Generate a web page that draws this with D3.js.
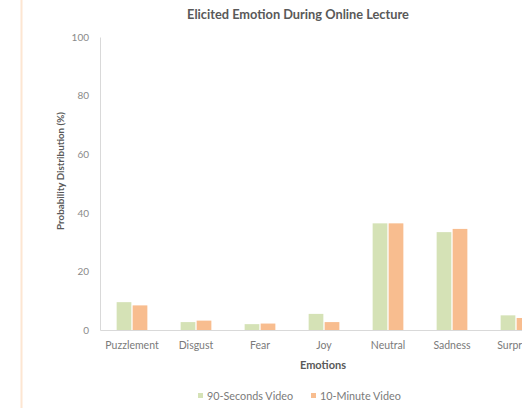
<!DOCTYPE html>
<html><head><meta charset="utf-8">
<script src="https://cdn.jsdelivr.net/npm/d3@7"></script>
<style>body{margin:0;background:#fff;overflow:hidden}svg{display:block;font-family:Lato,"Open Sans",sans-serif}</style>
</head><body><svg id="c" width="522" height="408"></svg>
<script>
const categories = ["Puzzlement","Disgust","Fear","Joy","Neutral","Sadness","Surprise"];
const seriesNames = ["90-Seconds Video","10-Minute Video"];
const seconds90 = [9.5, 2.7, 2.0, 5.5, 36.4, 33.4, 5.0];
const minute10 = [8.4, 3.2, 2.2, 2.7, 36.4, 34.5, 4.1];
const yTicks = [0, 20, 40, 60, 80, 100];
const colors = ["#d5e2b6", "#f8bd8f"];

const svg = d3.select("#c");
const x0 = 100, y0 = 330, yTop = 37, step = 64;
const x = d3.scaleBand().domain(categories).range([x0, x0 + step*categories.length]).paddingInner(0.48).paddingOuter(0.24);
const xs = d3.scaleBand().domain(seriesNames).range([0, x.bandwidth()]).padding(0.08);
const y = d3.scaleLinear().domain([0,100]).range([y0, yTop]);
const series = [seconds90, minute10];

// peach border line
svg.append("rect").attr("x",20.5).attr("y",0).attr("width",2).attr("height",408).attr("fill","#fde6d2");

// title
svg.append("text").attr("x",298).attr("y",19).attr("text-anchor","middle")
  .attr("font-size",12.8).attr("font-weight","bold").attr("fill","#595959").text("Elicited Emotion During Online Lecture");

// y axis
const ya = svg.append("g").attr("transform",`translate(${x0},0)`)
  .call(d3.axisLeft(y).tickValues(yTicks).tickSize(0).tickPadding(11));
ya.select(".domain").attr("stroke","#d9d9d9");
ya.selectAll("text").attr("font-size",10).attr("fill","#8a8a8a").attr("font-family","Lato,sans-serif");

// bars
categories.forEach((c,i)=>{
  series.forEach((s,j)=>{
    svg.append("rect").attr("x", x(c)+xs(seriesNames[j])).attr("y", y(s[i]))
      .attr("width", xs.bandwidth()).attr("height", y0 - y(s[i])).attr("fill", colors[j]);
  });
});

// x axis
const xa = svg.append("g").attr("transform",`translate(0,${y0})`)
  .call(d3.axisBottom(x).tickSize(0).tickPadding(12).tickSizeOuter(0));
xa.select(".domain").attr("stroke","#d9d9d9");
xa.selectAll("text").attr("font-size",10.5).attr("fill","#7a7a7a").attr("font-family","Lato,sans-serif");

// axis titles
svg.append("text").attr("x",323).attr("y",369).attr("text-anchor","middle")
  .attr("font-size",11).attr("font-weight","bold").attr("fill","#595959").text("Emotions");
svg.append("text").attr("transform","translate(64,171) rotate(-90)").attr("text-anchor","middle")
  .attr("font-size",9.8).attr("font-weight","bold").attr("fill","#595959").text("Probability Distribution (%)");

// legend
const lx = [198, 311];
seriesNames.forEach((n,j)=>{
  svg.append("rect").attr("x",lx[j]).attr("y",393).attr("width",5).attr("height",5).attr("fill",colors[j]);
  svg.append("text").attr("x",lx[j]+9).attr("y",399.5).attr("font-size",10.8).attr("fill","#7a7a7a").text(n);
});
</script></body></html>
